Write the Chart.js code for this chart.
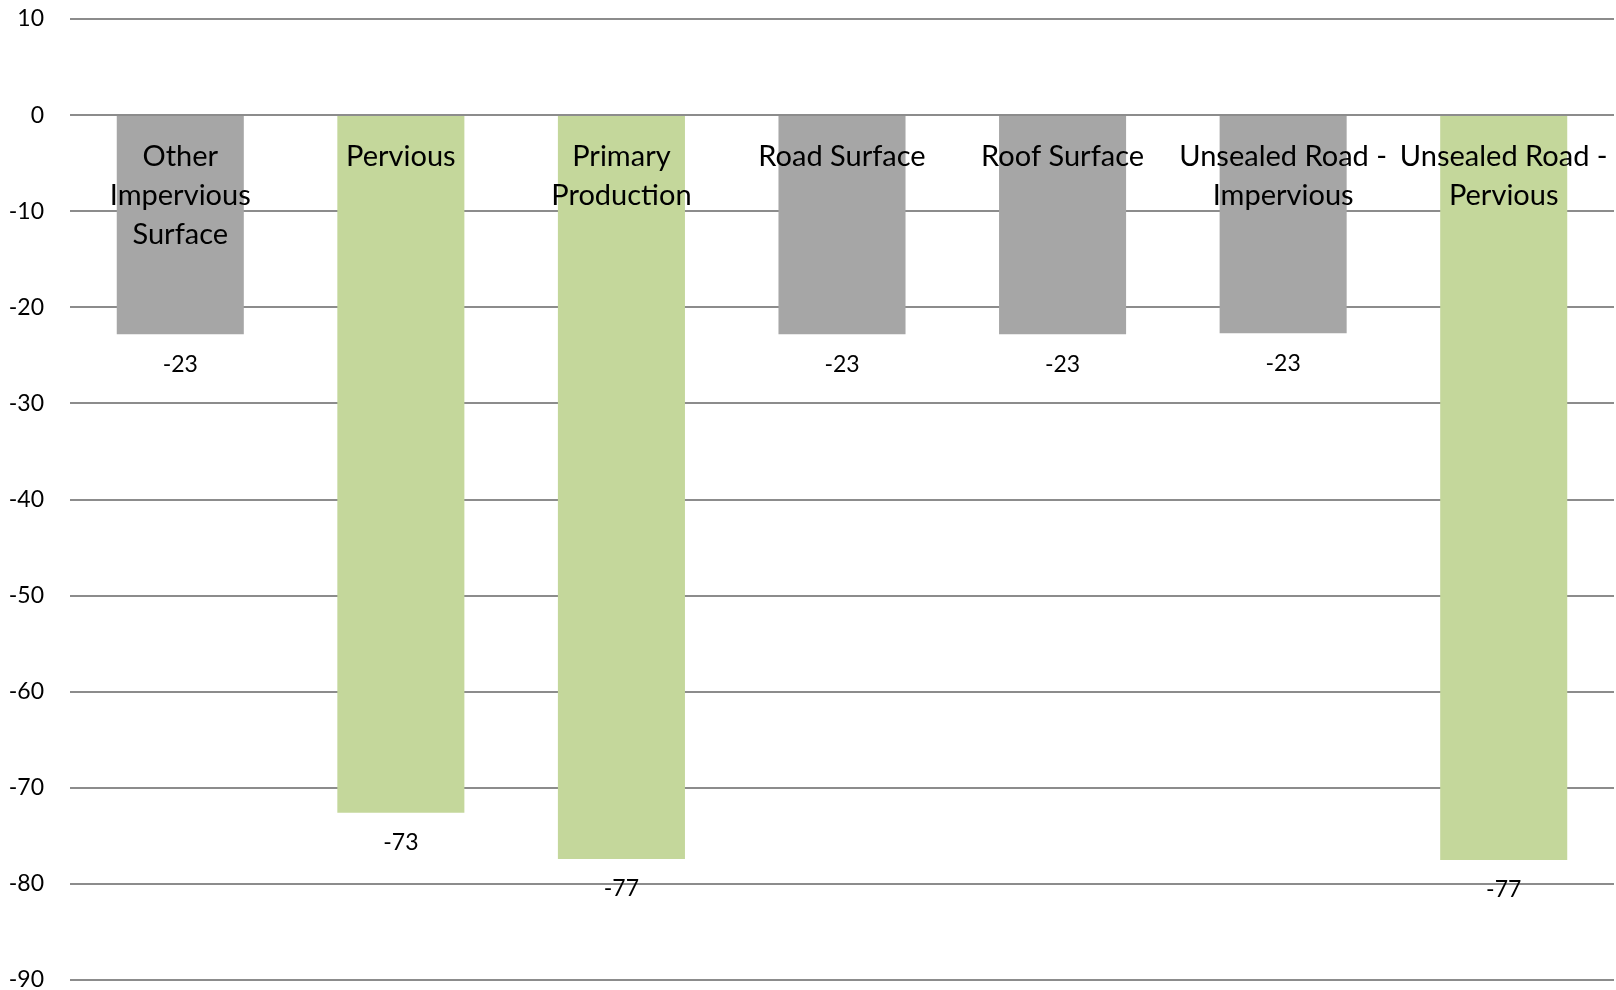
<!DOCTYPE html>
<html>
<head>
<meta charset="utf-8">
<script src="https://cdn.jsdelivr.net/npm/chart.js@4.4.1/dist/chart.umd.min.js"></script>
<style>
  html, body { margin: 0; padding: 0; background: #ffffff; }
  #wrap { position: relative; width: 1616px; height: 990px; }
</style>
</head>
<body>
<div id="wrap"><canvas id="chart"></canvas></div>
<script>
// Surface categories (wrapped over lines as they appear on the axis)
const categories = [
  ['Other', 'Impervious', 'Surface'],
  ['Pervious'],
  ['Primary', 'Production'],
  ['Road Surface'],
  ['Roof Surface'],
  ['Unsealed Road -', 'Impervious'],
  ['Unsealed Road -', 'Pervious']
];

// Change per surface type
const values = [-22.8, -72.6, -77.4, -22.8, -22.8, -22.7, -77.5];

// Impervious surfaces in grey, pervious ones in green
const surfaceKind = ['impervious', 'pervious', 'pervious', 'impervious', 'impervious', 'impervious', 'pervious'];
const kindColours = { impervious: '#a6a6a6', pervious: '#c4d79b' };

// Value axis range
const yMin = -90;
const yMax = 10;
const yStep = 10;

const FONT = 'Lato, "Open Sans", "DejaVu Sans", sans-serif';

// Value labels under the end of each bar
const barValueLabels = {
  id: 'barValueLabels',
  afterDatasetsDraw(chart) {
    const ctx = chart.ctx;
    const meta = chart.getDatasetMeta(0);
    ctx.save();
    ctx.font = '23px ' + FONT;
    ctx.fillStyle = '#000000';
    ctx.textAlign = 'center';
    ctx.textBaseline = 'middle';
    meta.data.forEach((bar, i) => {
      const v = chart.data.datasets[0].data[i];
      ctx.fillText(Math.round(v).toString(), bar.x, bar.y + 30);
    });
    ctx.restore();
  }
};

// Keep the plot area governed by the layout padding alone
function noScalePadding(scale) {
  scale.paddingTop = 0;
  scale.paddingBottom = 0;
  scale.paddingLeft = 0;
  scale.paddingRight = 0;
}

new Chart(document.getElementById('chart'), {
  type: 'bar',
  data: {
    labels: categories,
    datasets: [{
      data: values,
      backgroundColor: surfaceKind.map(k => kindColours[k]),
      borderWidth: 0,
      categoryPercentage: 1,
      barPercentage: 0.576
    }]
  },
  options: {
    responsive: true,
    maintainAspectRatio: false,
    animation: false,
    layout: { padding: { top: 19, bottom: 10, left: 0, right: 2 } },
    plugins: {
      legend: { display: false },
      tooltip: { enabled: false }
    },
    scales: {
      x: {
        position: { y: 0 },
        grid: { display: false, drawTicks: false },
        border: { display: false },
        afterFit: noScalePadding,
        ticks: {
          z: 1,
          color: '#000000',
          padding: 22,
          maxRotation: 0,
          autoSkip: false,
          font: { family: FONT, size: 29, lineHeight: 1.35 }
        }
      },
      y: {
        min: yMin,
        max: yMax,
        grid: { color: '#8c8c8c', lineWidth: 2, drawTicks: false },
        border: { display: false },
        afterFit(scale) { scale.width = 70; noScalePadding(scale); },
        ticks: {
          stepSize: yStep,
          color: '#000000',
          padding: 26,
          font: { family: FONT, size: 23 }
        }
      }
    }
  },
  plugins: [barValueLabels]
});
</script>
</body>
</html>
